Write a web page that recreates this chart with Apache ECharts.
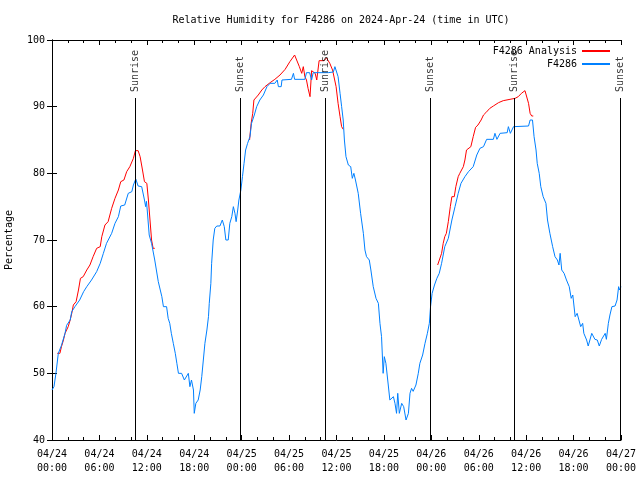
<!DOCTYPE html>
<html><head><meta charset="utf-8">
<script src="https://cdn.jsdelivr.net/npm/echarts@6/dist/echarts.min.js"></script>
<style>html,body{margin:0;padding:0;background:#fff}#c{width:640px;height:480px}</style>
</head><body><div id="c"></div>
<script>
// ---- data (hours since 2024-04-24 00:00 UTC) ----
var titleText = 'Relative Humidity for F4286 on 2024-Apr-24 (time in UTC)';
var yTicks = [40, 50, 60, 70, 80, 90, 100];
var xTickHours = [0, 6, 12, 18, 24, 30, 36, 42, 48, 54, 60, 66, 72];

var obsHours = [0.0,0.25,0.5,0.8,1.2,1.65,1.85,2.3,2.5,2.9,3.5,4.0,4.4,5.0,5.65,6.1,6.5,6.9,7.55,7.97,8.4,8.7,9.2,9.65,10.1,10.3,10.6,10.9,11.35,11.7,11.85,11.95,12.05,12.3,12.6,13.0,13.45,13.9,14.1,14.5,14.7,14.9,15.1,15.35,15.6,15.8,16.0,16.4,16.75,17.0,17.25,17.45,17.65,17.9,18.0,18.2,18.5,18.75,18.95,19.15,19.35,19.6,19.8,19.9,20.1,20.2,20.4,20.6,20.85,21.25,21.55,21.8,22.0,22.3,22.5,22.75,22.95,23.15,23.3,23.5,23.65,23.9,24.1,24.3,24.5,24.75,25.05,25.25,25.6,25.9,26.3,26.75,27.2,27.6,28.2,28.5,28.65,29.0,29.1,30.3,30.55,30.7,32.0,32.2,32.6,32.85,33.05,34.95,35.6,35.8,36.0,36.2,36.45,36.65,36.85,37.0,37.2,37.5,37.8,38.0,38.2,38.4,38.75,39.05,39.4,39.6,39.8,40.15,40.35,40.65,41.0,41.3,41.5,41.7,41.9,42.05,42.25,42.55,42.75,43.2,43.4,43.6,43.75,43.95,44.25,44.5,44.8,45.1,45.3,45.5,45.7,46.05,46.35,46.55,46.9,47.2,47.5,47.75,47.9,48.1,48.4,48.7,49.0,49.3,49.7,50.15,50.6,51.0,51.4,51.75,52.25,52.7,53.3,53.75,54.15,54.6,55.0,55.85,56.05,56.3,56.7,57.6,57.75,58.0,58.4,60.3,60.5,60.8,61.0,61.25,61.4,61.65,61.85,62.15,62.5,62.7,63.0,63.35,63.65,63.95,64.15,64.3,64.5,64.8,65.1,65.45,65.7,65.9,66.05,66.2,66.45,66.7,66.9,67.15,67.3,67.65,67.85,68.1,68.3,68.5,68.7,69.0,69.25,69.55,69.8,70.0,70.15,70.4,70.6,70.85,71.25,71.5,71.7,71.8,72.0];
var obsValues = [47.5,48.0,50.0,53.0,54.2,56.0,57.2,58.0,59.25,60.0,61.0,62.25,63.0,64.0,65.25,66.5,68.0,69.5,71.0,72.5,73.5,75.1,75.25,77.0,77.25,78.25,79.15,78.1,78.0,76.0,75.0,75.8,74.5,70.75,69.5,67.0,63.75,61.5,60.0,60.0,58.25,57.5,56.0,54.5,53.0,51.5,50.0,50.0,49.0,49.0,50.0,48.0,49.0,47.5,44.0,45.5,46.0,47.5,49.5,52.0,54.5,56.5,58.5,60.5,63.5,66.5,70.0,71.75,72.1,72.1,73.0,72.0,70.0,70.0,72.5,73.5,75.0,74.0,72.75,74.5,76.0,77.5,79.5,81.5,83.5,84.5,85.5,87.5,88.75,90.0,91.0,91.75,93.0,93.5,93.5,94.0,93.0,93.0,94.0,94.1,95.0,94.1,94.1,95.1,95.1,94.0,95.1,95.1,95.2,96.0,95.75,94.5,92.0,90.0,88.0,85.0,82.5,81.25,81.0,79.25,80.0,79.0,77.0,74.0,71.0,68.5,67.5,67.0,65.5,63.0,61.25,60.5,57.5,55.5,50.0,52.5,51.5,48.25,46.0,46.5,45.5,44.0,47.0,44.0,45.5,45.0,43.0,44.0,47.0,47.75,47.3,48.25,50.0,51.5,52.75,54.5,56.0,57.5,60.0,62.0,63.25,64.25,65.0,66.5,69.0,70.25,73.0,75.0,77.0,78.5,79.5,80.25,81.0,82.75,83.75,84.0,85.1,85.1,86.0,85.1,86.0,86.1,87.0,86.0,87.0,87.1,88.0,88.0,85.5,83.5,81.5,80.0,78.0,76.5,75.5,73.0,71.0,69.0,67.5,67.0,66.25,68.0,65.5,65.0,64.0,63.0,61.25,61.75,62.0,58.5,59.0,59.0,57.0,57.5,56.0,55.0,54.1,54.1,56.0,56.0,55.1,55.0,54.1,55.1,55.1,56.0,55.1,57.5,58.75,60.0,60.1,61.0,63.0,62.5,63.0];

var anaHours = [0.67,1.0,1.2,1.45,1.65,1.85,2.05,2.3,2.5,2.7,3.05,3.35,3.6,3.95,4.4,4.8,5.2,5.65,6.1,6.3,6.7,7.1,7.55,7.97,8.4,8.7,9.1,9.45,9.85,10.3,10.55,10.9,11.15,11.45,11.7,12.0,12.2,12.4,12.6,12.8,13.0,13.1,
25.0,25.2,25.4,25.55,26.1,26.55,26.95,27.6,28.2,28.85,29.5,30.1,30.7,30.95,31.3,31.6,31.8,32.0,32.2,32.4,32.65,32.85,33.3,33.5,33.8,34.4,34.75,35.15,35.5,35.95,36.2,36.45,36.65,36.85,37.0,
48.8,49.0,49.3,49.5,49.7,49.9,50.15,50.4,50.6,50.9,51.1,51.4,51.6,51.85,52.05,52.25,52.45,52.7,53.0,53.3,53.6,53.9,54.3,54.6,54.9,55.4,55.85,56.5,57.1,57.95,58.6,59.0,59.4,59.85,60.1,60.3,60.5,60.7,60.9];
var anaValues = [53,53,54,55,56,56.5,57,58,59,60.25,60.75,62.5,64.25,64.5,65.5,66.25,67.5,68.75,69,70.5,72.25,72.75,74.75,76.25,77.5,78.75,79,80.25,81,82.25,83.4,83.4,82.5,80.5,78.75,78.5,76,73,70,68.75,68.75,null,
85,87.5,89,91,91.75,92.5,93,93.6,94.1,94.75,95.6,96.75,97.75,97.5,96,95,96,94.5,94,92.75,91.5,95.4,95,94,96.9,96.9,97.3,96.5,95.5,93,90.5,88.5,87,86.6,null,
66.25,66.25,68,69.5,70.5,71,72.75,75,76.5,76.5,78,79.5,80,80,81,82,83.5,83.75,84,85.5,86.9,87.25,88,88.75,89.1,89.75,90.1,90.6,90.9,91.1,91.25,91.5,92,92.4,92.25,90.5,89,88.6,88.6];

var sunNames = ['Sunrise', 'Sunset', 'Sunrise', 'Sunset', 'Sunrise', 'Sunset'];
var sunHours = [10.56, 23.87, 34.6, 47.87, 58.5, 71.96];

// ---- build ----
function pairs(h, v) { return h.map(function (x, i) { return [x, v[i]]; }); }
var FONT = 'DejaVu Sans Mono';
function xLabel(h) {
  var day = 24 + Math.floor(h / 24);
  var hh = h % 24;
  return '04/' + day + '\n' + (hh < 10 ? '0' : '') + hh + ':00';
}
var sunLines = sunHours.map(function (h) { return [{ coord: [h, 40] }, { coord: [h, 91.3] }]; });
var sunLabels = sunHours.map(function (h, i) { return { name: sunNames[i], value: [h, 92.2] }; });

var chart = echarts.init(document.getElementById('c'), null, { renderer: 'canvas' });
var baseX = {
  type: 'value', min: 0, max: 72, interval: 6,
  axisLine: { show: true, lineStyle: { color: '#000', width: 1 } },
  axisTick: { show: true, inside: true, length: 5, lineStyle: { color: '#000' } },
  minorTick: { show: true, splitNumber: 3, length: 3, lineStyle: { color: '#000' } },
  splitLine: { show: false }
};
var baseY = {
  type: 'value', min: 40, max: 100, interval: 10,
  axisLine: { show: true, lineStyle: { color: '#000', width: 1 } },
  axisTick: { show: true, inside: true, length: 5, lineStyle: { color: '#000' } },
  splitLine: { show: false }
};
chart.setOption({
  animation: false,
  backgroundColor: '#fff',
  title: {
    text: titleText, left: 336, textAlign: 'center', top: 10,
    textStyle: { fontFamily: FONT, fontSize: 10, fontWeight: 'normal', color: '#000' }
  },
  legend: {
    orient: 'vertical', right: 25, top: 40, align: 'right',
    itemWidth: 28, itemHeight: 2, itemGap: 1, icon: 'rect',
    data: ['F4286 Analysis', 'F4286'],
    textStyle: { fontFamily: FONT, fontSize: 10, color: '#000', lineHeight: 12, padding: [0, 0, 0, 0] }
  },
  grid: { left: 52, right: 19, top: 40, bottom: 40, show: false, outerBoundsMode: 'none', containLabel: false },
  xAxis: [
    Object.assign({}, baseX, {
      position: 'bottom',
      axisLabel: { show: true, margin: 7, lineHeight: 14, fontFamily: FONT, fontSize: 10, color: '#000', formatter: xLabel, customValues: xTickHours }
    }),
    Object.assign({}, baseX, { position: 'top', axisLabel: { show: false } })
  ],
  yAxis: [
    Object.assign({}, baseY, {
      position: 'left',
      name: 'Percentage', nameLocation: 'middle', nameGap: 38, nameRotate: 90,
      nameTextStyle: { fontFamily: FONT, fontSize: 10, color: '#000' },
      axisLabel: { show: true, margin: 7, fontFamily: FONT, fontSize: 10, color: '#000', customValues: yTicks }
    }),
    Object.assign({}, baseY, { position: 'right', axisLabel: { show: false } })
  ],
  series: [
    {
      name: 'F4286 Analysis', type: 'line', data: pairs(anaHours, anaValues),
      showSymbol: false, symbol: 'none', connectNulls: false,
      lineStyle: { color: '#ff0000', width: 1 }, itemStyle: { color: '#ff0000' }, z: 3
    },
    {
      name: 'F4286', type: 'line', data: pairs(obsHours, obsValues),
      showSymbol: false, symbol: 'none',
      lineStyle: { color: '#0080ff', width: 1 }, itemStyle: { color: '#0080ff' }, z: 4
    },
    {
      name: 'sun', type: 'scatter', data: sunLabels, symbolSize: 1,
      itemStyle: { color: 'rgba(0,0,0,0)' }, silent: true, z: 5,
      label: {
        show: true, position: 'inside', rotate: 90, align: 'left', verticalAlign: 'middle',
        formatter: function (p) { return p.name; },
        fontFamily: FONT, fontSize: 10, color: '#000'
      },
      markLine: {
        silent: true, symbol: ['none', 'none'], label: { show: false },
        lineStyle: { color: '#000', width: 1, type: 'solid' },
        data: sunLines
      }
    }
  ]
});
</script></body></html>
